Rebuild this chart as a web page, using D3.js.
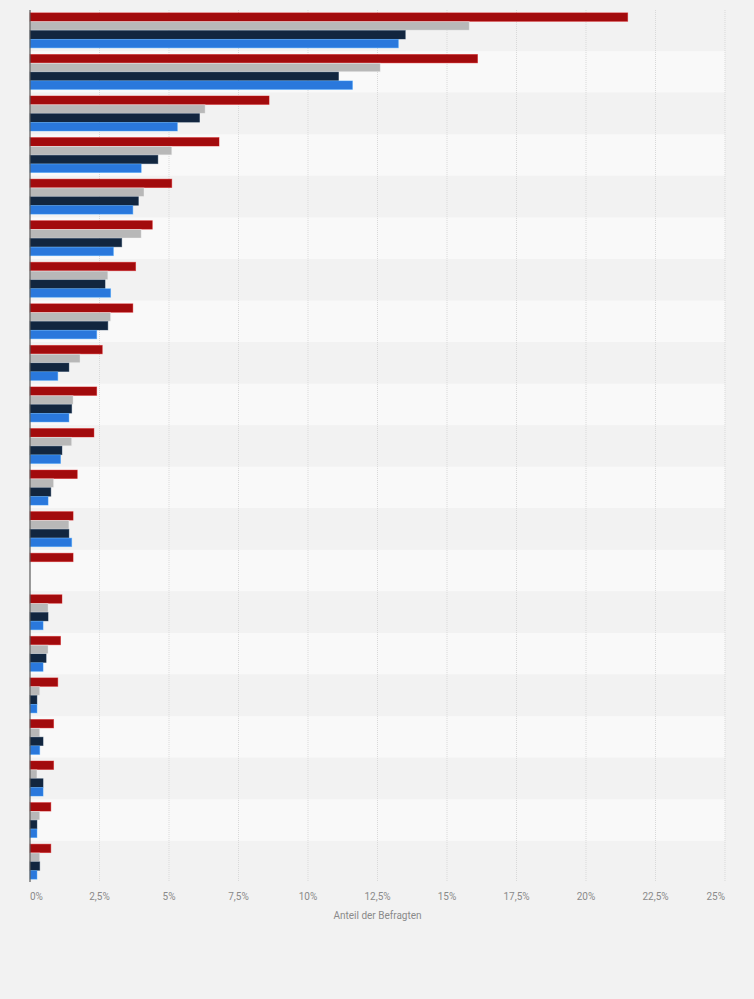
<!DOCTYPE html>
<html>
<head>
<meta charset="utf-8">
<script src="https://cdn.jsdelivr.net/npm/d3@7"></script>
<style>
  html, body { margin: 0; padding: 0; background: #f2f2f2; }
  #chart-container { width: 754px; height: 999px; }
  text { font-family: Roboto, "Liberation Sans", Arial, sans-serif; }
</style>
</head>
<body>
<div id="chart-container"></div>
<script>
// Categories (no labels are shown on the chart)
const categories = d3.range(1, 22).map(i => "Kategorie " + i);
const seriesNames = ["Serie A", "Serie B", "Serie C", "Serie D"];
const seriesColors = ["#a20b0d", "#b8b8b8", "#12263f", "#2a78dc"];

// Values in percent
const serieA = [21.5, 16.1, 8.6, 6.8, 5.1, 4.4, 3.8, 3.7, 2.6, 2.4, 2.3, 1.7, 1.55, 1.55, 1.15, 1.1, 1.0, 0.85, 0.85, 0.75, 0.75];
const serieB = [15.8, 12.6, 6.3, 5.1, 4.1, 4.0, 2.8, 2.9, 1.8, 1.55, 1.5, 0.85, 1.4, null, 0.65, 0.65, 0.35, 0.35, 0.25, 0.35, 0.35];
const serieC = [13.5, 11.1, 6.1, 4.6, 3.9, 3.3, 2.7, 2.8, 1.4, 1.5, 1.15, 0.75, 1.4, null, 0.65, 0.58, 0.25, 0.47, 0.47, 0.25, 0.35];
const serieD = [13.25, 11.6, 5.3, 4.0, 3.7, 3.0, 2.9, 2.4, 1.0, 1.4, 1.1, 0.65, 1.5, null, 0.47, 0.47, 0.25, 0.35, 0.47, 0.25, 0.25];
const xTicks = [0, 2.5, 5, 7.5, 10, 12.5, 15, 17.5, 20, 22.5, 25];

const allSeries = [serieA, serieB, serieC, serieD];
const data = categories.map((c, i) => ({
    category: c,
    values: seriesNames.map((s, j) => ({ series: s, color: seriesColors[j], value: allSeries[j][i] }))
}));

const width = 754;
const height = 999;
const margin = { top: 10, right: 29, bottom: 117, left: 30 };

const svg = d3.select('#chart-container').append('svg')
  .attr('width', width)
  .attr('height', height);

const xScale = d3.scaleLinear()
  .domain([0, 25])
  .range([margin.left, width - margin.right]);

const yScale = d3.scaleBand()
  .domain(categories)
  .range([margin.top, height - margin.bottom])
  .paddingInner(0.141)
  .paddingOuter(0.06);

const subScale = d3.scaleBand()
  .domain(seriesNames)
  .range([0, yScale.bandwidth()])
  .padding(0.04);

// Alternating row stripes
const step = yScale.step();
const gap = step - yScale.bandwidth();
svg.append('g').selectAll('rect')
  .data(categories)
  .enter().append('rect')
  .attr('x', margin.left)
  .attr('y', d => yScale(d) - gap / 2)
  .attr('width', width - margin.right - margin.left)
  .attr('height', step)
  .attr('fill', (d, i) => i % 2 ? '#f9f9f9' : '#f2f2f2');

// Vertical grid lines
svg.append('g').selectAll('line')
  .data(xTicks.slice(1))
  .enter().append('line')
  .attr('x1', d => xScale(d))
  .attr('x2', d => xScale(d))
  .attr('y1', margin.top)
  .attr('y2', height - margin.bottom)
  .attr('stroke', '#d9d9d9')
  .attr('stroke-width', 1)
  .attr('stroke-dasharray', '1,1');

// Bars
const groups = svg.append('g').selectAll('g')
  .data(data)
  .enter().append('g')
  .attr('transform', d => `translate(0,${yScale(d.category)})`);

groups.selectAll('rect')
  .data(d => d.values.filter(v => v.value != null))
  .enter().append('rect')
  .attr('x', xScale(0))
  .attr('y', d => subScale(d.series))
  .attr('width', d => xScale(d.value) - xScale(0))
  .attr('height', subScale.bandwidth())
  .attr('fill', d => d.color)
  .attr('stroke', d => d3.color(d.color).brighter(0.8))
  .attr('stroke-opacity', 0.5)
  .attr('stroke-width', 0.8);

// Axis line at 0
svg.append('line')
  .attr('x1', xScale(0))
  .attr('x2', xScale(0))
  .attr('y1', margin.top)
  .attr('y2', height - margin.bottom)
  .attr('stroke', '#5a5a5a')
  .attr('stroke-width', 1.2);

// X axis tick labels
const fmt = d => String(d).replace('.', ',') + '%';
svg.append('g').selectAll('text')
  .data(xTicks)
  .enter().append('text')
  .attr('x', d => xScale(d))
  .attr('y', height - margin.bottom + 18)
  .attr('text-anchor', (d, i) => i === 0 ? 'start' : (i === xTicks.length - 1 ? 'end' : 'middle'))
  .attr('font-size', 10)
  .attr('fill', '#8a8a8a')
  .text(fmt);

// X axis title
svg.append('text')
  .attr('x', (xScale(0) + xScale(25)) / 2)
  .attr('y', height - margin.bottom + 37)
  .attr('text-anchor', 'middle')
  .attr('font-size', 10)
  .attr('fill', '#8a8a8a')
  .text('Anteil der Befragten');
</script>
</body>
</html>
